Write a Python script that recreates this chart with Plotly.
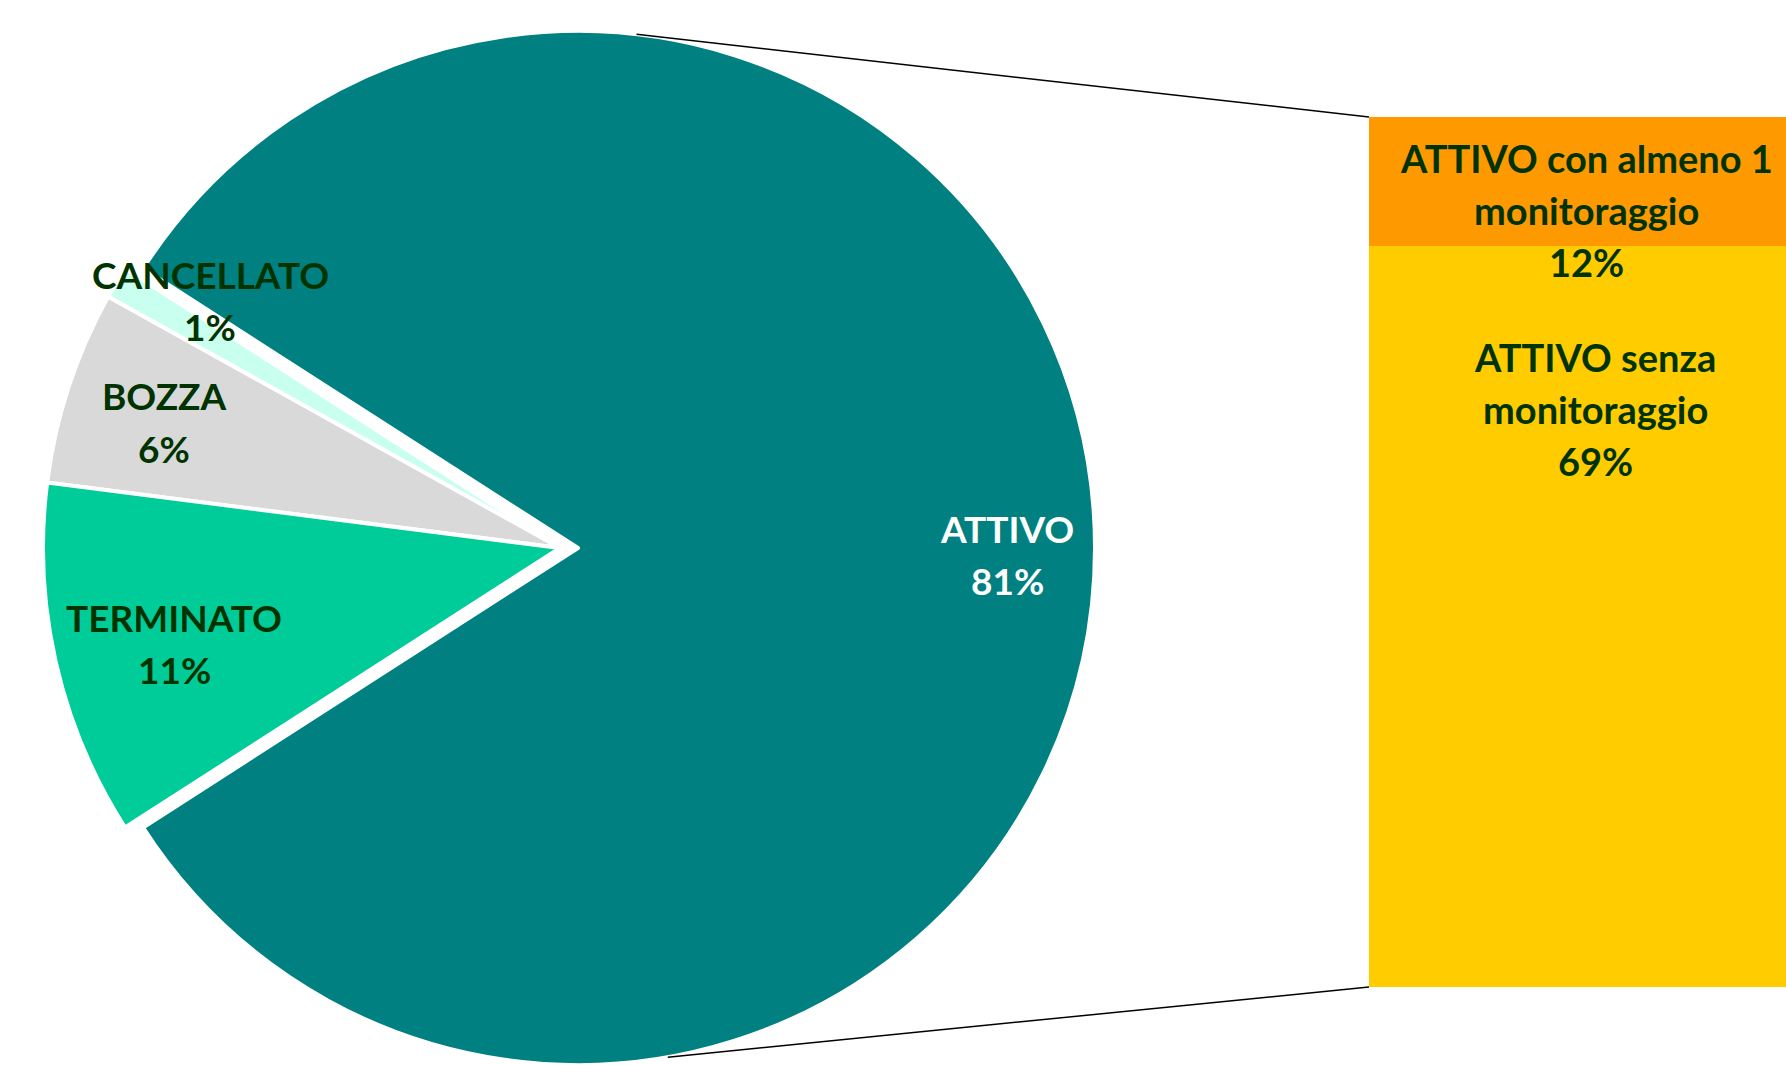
import math
import plotly.graph_objects as go

# ---------------- data ----------------
pie_labels = ["ATTIVO", "CANCELLATO", "BOZZA", "TERMINATO"]
pie_values = [81, 1, 6, 11]          # percent
pie_colors = ["#008080", "#C9FFEE", "#D9D9D9", "#00CC99"]
pie_text_colors = ["#FFFFFF", "#003300", "#003300", "#003300"]

bar_labels = ["ATTIVO senza<br>monitoraggio", "ATTIVO con almeno 1<br>monitoraggio"]
bar_values = [69, 12]                # percent, stacked bottom -> top
bar_colors = ["#FFCC00", "#FF9900"]
bar_text_colors = ["#003300", "#003300"]

# ---------------- layout constants (pixels) ----------------
W, H = 1786, 1065
PIE_CX, PIE_CY, PIE_R = 578, 548, 517
SPLIT_SHIFT = 18                     # left slices are pulled out to the left
BAR_LEFT, BAR_TOP, BAR_BOTTOM = 1369, 117, 987
LINE_GAP = 52
FONT = "Lato"
FONT_SIZE = 37

# label anchor (centre of first line) for each category
pie_label_xy = [(1007, 528), (210, 274), (164, 396), (174, 617)]
bar_label_xy = [(1595, 357), (1586, 158)]


def px(x):
    return x / W


def py(y):
    return 1 - y / H


total = sum(pie_values)
# plotly: counterclockwise pies put the first slice clockwise from `rotation`
rotation = 90 - 180 * pie_values[0] / total   # centre ATTIVO at 3 o'clock

CLEAR = "rgba(0,0,0,0)"
fig = go.Figure()


def pie_trace(cx, visible_idx):
    colors = [c if i in visible_idx else CLEAR for i, c in enumerate(pie_colors)]
    lines = ["#FFFFFF" if i in visible_idx else CLEAR for i in range(len(pie_colors))]
    return go.Pie(
        labels=pie_labels, values=pie_values, sort=False,
        direction="counterclockwise", rotation=rotation,
        marker=dict(colors=colors, line=dict(color=lines, width=4)),
        textinfo="none", hoverinfo="skip", showlegend=False,
        domain=dict(x=[px(cx - PIE_R), px(cx + PIE_R)],
                    y=[py(PIE_CY + PIE_R), py(PIE_CY - PIE_R)]),
    )


fig.add_trace(pie_trace(PIE_CX, {0}))
fig.add_trace(pie_trace(PIE_CX - SPLIT_SHIFT, {1, 2, 3}))

for lab, v, c in zip(bar_labels, bar_values, bar_colors):
    fig.add_trace(go.Bar(
        x=[0], y=[v], width=1, name=lab.replace("<br>", " "),
        marker=dict(color=c, line=dict(width=0)),
        hoverinfo="skip", showlegend=False,
    ))

annotations = []


def add_label(text, xy, color, size):
    x0, y0 = xy
    for i, line in enumerate(text.split("<br>")):
        annotations.append(dict(
            text=line, x=px(x0), y=py(y0 + i * LINE_GAP),
            xref="paper", yref="paper", xanchor="center", yanchor="middle",
            showarrow=False,
            font=dict(family=FONT, size=size, color=color, weight="bold"),
        ))


for lab, v, xy, col in zip(pie_labels, pie_values, pie_label_xy, pie_text_colors):
    add_label(f"{lab}<br>{v}%", xy, col, FONT_SIZE)
for lab, v, xy, col in zip(bar_labels, bar_values, bar_label_xy, bar_text_colors):
    add_label(f"{lab}<br>{v}%", xy, col, FONT_SIZE + 1)


def circ(a):
    r = math.radians(a)
    return PIE_CX + PIE_R * math.cos(r), PIE_CY - PIE_R * math.sin(r)


tx, ty = circ(83.5)
bx, by = circ(-80)
shapes = [
    dict(type="line", xref="paper", yref="paper",
         x0=px(tx), y0=py(ty), x1=px(BAR_LEFT), y1=py(BAR_TOP),
         line=dict(color="#000000", width=1.5)),
    dict(type="line", xref="paper", yref="paper",
         x0=px(bx), y0=py(by), x1=px(BAR_LEFT), y1=py(BAR_BOTTOM),
         line=dict(color="#000000", width=1.5)),
]

fig.update_layout(
    width=W, height=H,
    margin=dict(l=0, r=0, t=0, b=0, pad=0),
    paper_bgcolor="#FFFFFF", plot_bgcolor="#FFFFFF",
    barmode="stack", bargap=0,
    xaxis=dict(domain=[px(BAR_LEFT), 1], range=[-0.5, 0.5], visible=False, fixedrange=True),
    yaxis=dict(domain=[py(BAR_BOTTOM), py(BAR_TOP)], range=[0, sum(bar_values)],
               visible=False, fixedrange=True),
    annotations=annotations,
    shapes=shapes,
    showlegend=False,
)

fig.write_html("out.html", config={"displayModeBar": False})
